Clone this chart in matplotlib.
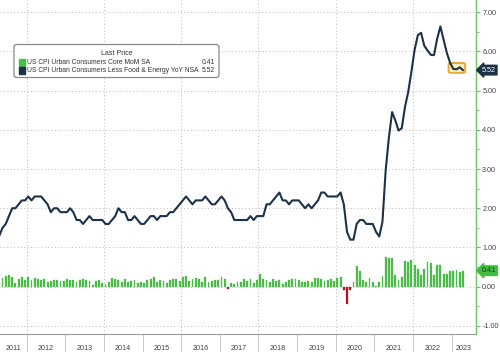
import matplotlib
matplotlib.use("Agg")
import matplotlib.pyplot as plt
import matplotlib.transforms as mtransforms
from matplotlib.patches import FancyBboxPatch, Rectangle
import numpy as np

plt.rcParams['font.family'] = ['Liberation Sans', 'DejaVu Sans']

# ---------------- data ----------------
start_year = 2011
start_month = 3  # first observation: Mar 2011

core_yoy = [
    1.20, 1.30, 1.50, 1.60, 1.80, 2.00, 2.00, 2.10, 2.20, 2.20,             # 2011 Mar-Dec
    2.30, 2.20, 2.30, 2.30, 2.30, 2.20, 2.10, 1.90, 2.00, 2.00, 1.90, 1.90,  # 2012
    1.90, 2.00, 1.90, 1.70, 1.70, 1.60, 1.70, 1.80, 1.70, 1.70, 1.70, 1.70,  # 2013
    1.60, 1.60, 1.70, 1.80, 2.00, 1.90, 1.90, 1.70, 1.70, 1.80, 1.70, 1.60,  # 2014
    1.60, 1.70, 1.80, 1.80, 1.70, 1.80, 1.80, 1.80, 1.90, 1.90, 2.00, 2.10,  # 2015
    2.20, 2.30, 2.20, 2.10, 2.20, 2.20, 2.20, 2.30, 2.20, 2.10, 2.10, 2.20,  # 2016
    2.30, 2.20, 2.00, 1.90, 1.70, 1.70, 1.70, 1.70, 1.70, 1.80, 1.70, 1.80,  # 2017
    1.80, 1.80, 2.10, 2.10, 2.20, 2.30, 2.40, 2.20, 2.20, 2.10, 2.20, 2.20,  # 2018
    2.20, 2.10, 2.00, 2.10, 2.00, 2.10, 2.20, 2.40, 2.40, 2.30, 2.30, 2.30,  # 2019
    2.30, 2.40, 2.10, 1.40, 1.20, 1.20, 1.60, 1.70, 1.70, 1.60, 1.60, 1.60,  # 2020
    1.40, 1.28, 1.65, 2.96, 3.80, 4.45, 4.24, 3.98, 4.04, 4.58, 4.96, 5.48,  # 2021
    6.04, 6.41, 6.47, 6.14, 6.02, 5.91, 5.90, 6.32, 6.63, 6.30, 5.96, 5.71,  # 2022
    5.55, 5.54, 5.59, 5.52,                                                  # 2023 Jan-Apr
]

core_mom = [
    0.15, 0.12, 0.22, 0.27, 0.30, 0.24, 0.10, 0.20, 0.24, 0.18,             # 2011 Mar-Dec
    0.26, 0.16, 0.22, 0.20, 0.18, 0.20, 0.12, 0.14, 0.18, 0.17, 0.15, 0.14,  # 2012
    0.20, 0.16, 0.18, 0.12, 0.18, 0.20, 0.17, 0.14, 0.04, 0.15, 0.16, 0.10,  # 2013
    0.08, 0.12, 0.22, 0.20, 0.17, 0.12, 0.20, 0.12, 0.14, 0.18, 0.10, 0.12,  # 2014
    0.10, 0.16, 0.20, 0.24, 0.12, 0.18, 0.15, 0.10, 0.18, 0.20, 0.20, 0.14,  # 2015
    0.26, 0.28, 0.15, 0.20, 0.22, 0.20, 0.12, 0.25, 0.13, 0.14, 0.16, 0.17,  # 2016
    0.26, 0.20, -0.05, 0.10, 0.08, 0.12, 0.12, 0.20, 0.14, 0.20, 0.10, 0.16,  # 2017
    0.32, 0.20, 0.17, 0.12, 0.20, 0.15, 0.18, 0.08, 0.12, 0.18, 0.20, 0.20,  # 2018
    0.18, 0.12, 0.12, 0.15, 0.12, 0.22, 0.22, 0.20, 0.14, 0.18, 0.20, 0.15,  # 2019
    0.23, 0.26, -0.08, -0.45, -0.08, 0.13, 0.52, 0.39, 0.16, 0.11, 0.22, 0.12,  # 2020
    0.03, 0.11, 0.28, 0.76, 0.74, 0.74, 0.31, 0.18, 0.25, 0.65, 0.62, 0.67,  # 2021
    0.56, 0.45, 0.31, 0.45, 0.62, 0.60, 0.31, 0.56, 0.56, 0.32, 0.32, 0.39,  # 2022
    0.39, 0.43, 0.38, 0.41,                                                  # 2023 Jan-Apr
]

years = list(range(2011, 2024))
label_mom = "US CPI Urban Consumers Core MoM SA"
label_yoy = "US CPI Urban Consumers Less Food & Energy YoY NSA"
last_mom = "0.41"
last_yoy = "5.52"
y_ticks = [-1, 0, 1, 2, 3, 4, 5, 6, 7]

# ---------------- styling ----------------
W, H = 500, 352
LINE_C = '#1d3147'
BAR_C = '#4cbb47'
NEG_C = '#b0151f'
GRID_C = '#b9b9b9'
AX_GREEN = '#6cc36a'
TXT_C = '#444444'

n = len(core_yoy)
t = np.array([start_year + (start_month - 1 + i + 0.5) / 12.0 for i in range(n)])

XMIN, XMAX = 2011.31, 2023.63
YMIN, YMAX = -1.204, 7.306

fig = plt.figure(figsize=(W / 100, H / 100), dpi=100)
ax = fig.add_axes([0, 18 / H, 476 / W, 334 / H])
ax.set_xlim(XMIN, XMAX)
ax.set_ylim(YMIN, YMAX)

# grid
for yv in y_ticks:
    ax.axhline(yv, color=GRID_C, lw=0.7, ls=(0, (1, 2.5)), zorder=0)
for yr in years:
    if yr % 2 == 0:
        ax.axvline(yr, color=GRID_C, lw=0.7, ls=(0, (1, 2.5)), zorder=0)

# bars
mom = np.array(core_mom)
colors = [BAR_C if v >= 0 else NEG_C for v in mom]
ax.bar(t, mom, width=0.048, color=colors, edgecolor=colors, linewidth=0.2, zorder=2)

# highlight box around recent points
hl = FancyBboxPatch((2022.92, 5.45), 0.43, 0.25,
                    boxstyle="round,pad=0.0,rounding_size=0.06",
                    mutation_aspect=0.6,
                    facecolor='#fbeec0', edgecolor='#e9a935', lw=1.4, zorder=3)
ax.add_patch(hl)

# line
ax.plot(t, core_yoy, color=LINE_C, lw=1.5, zorder=4, solid_joinstyle='round')

# spines
for s in ['left', 'top']:
    ax.spines[s].set_visible(False)
ax.spines['right'].set_color(AX_GREEN)
ax.spines['right'].set_linewidth(1.0)
ax.spines['bottom'].set_color('#9a9a9a')
ax.spines['bottom'].set_linewidth(0.8)

# y axis on right
ax.yaxis.tick_right()
ax.set_yticks(y_ticks)
ax.set_yticklabels([f"{v:.2f}" for v in y_ticks])
ax.set_yticks(np.arange(-0.5, 7.5, 1.0), minor=True)
ax.tick_params(axis='y', which='major', direction='out', length=3, width=0.8,
               color=AX_GREEN, labelsize=5.2, labelcolor=TXT_C, pad=1.5)
ax.tick_params(axis='y', which='minor', direction='out', length=1.8, width=0.6,
               color=AX_GREEN)

# x axis: separators at year starts, labels centered in visible portion
ax.set_xticks(years[1:])
ax.set_xticklabels([])
ax.tick_params(axis='x', which='major', direction='out', length=13.5, width=0.7,
               color='#c8c8c8')
trans = mtransforms.blended_transform_factory(ax.transData, ax.transAxes)
for yr in years:
    lo = max(yr, XMIN)
    hi = min(yr + 1, XMAX)
    ax.text((lo + hi) / 2, -14.5 / 334, str(yr), transform=trans, ha='center',
            va='center', fontsize=5.2, color=TXT_C)

# value tags on the right axis
ytrans = mtransforms.blended_transform_factory(ax.transAxes, ax.transData)
ax.text(1.012, float(last_yoy), last_yoy, transform=ytrans, ha='left', va='center',
        fontsize=5.2, color='white', zorder=6, clip_on=False,
        bbox=dict(boxstyle='larrow,pad=0.18', facecolor=LINE_C, edgecolor=LINE_C))
ax.text(1.012, float(last_mom), last_mom, transform=ytrans, ha='left', va='center',
        fontsize=5.2, color='#1a3a1a', zorder=6, clip_on=False,
        bbox=dict(boxstyle='larrow,pad=0.18', facecolor='#3fbf3f', edgecolor='#3fbf3f'))

# legend box (figure pixel coordinates)
def px(x, y):
    return x / W, 1 - y / H

lx0, ly0, lx1, ly1 = 14, 44.5, 219, 77.5
box = FancyBboxPatch(px(lx0, ly1), (lx1 - lx0) / W, (ly1 - ly0) / H,
                     boxstyle="round,pad=0,rounding_size=0.006",
                     transform=fig.transFigure, facecolor='white',
                     edgecolor='#8a8a8a', lw=0.9, zorder=10)
fig.add_artist(box)
fig.text(*px(116.5, 53.5), "Last Price", ha='center', va='center', fontsize=5.0,
         color='#333333', zorder=11)
rows = [(label_mom, last_mom, BAR_C, 62.5), (label_yoy, last_yoy, LINE_C, 70.5)]
for lab, val, c, yy in rows:
    sq = Rectangle(px(19, yy + 3), 6 / W, 6 / H, transform=fig.transFigure,
                   facecolor=c, edgecolor=c, zorder=11)
    fig.add_artist(sq)
    fig.text(*px(27, yy), lab, ha='left', va='center', fontsize=4.85,
             color='#333333', zorder=11)
    fig.text(*px(215, yy), val, ha='right', va='center', fontsize=4.85,
             color='#333333', zorder=11)

fig.savefig("out.png", dpi=100)
